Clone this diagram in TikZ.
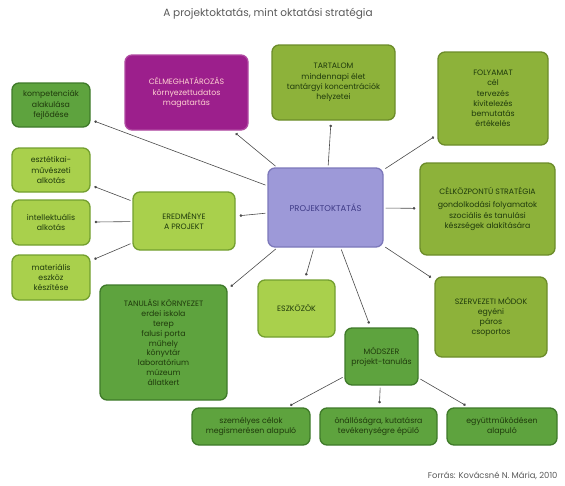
\documentclass[tikz,border=0pt]{standalone}
\usepackage{fontspec}
\setmainfont{Poppins}
\usetikzlibrary{arrows.meta}
\definecolor{olivefill}{HTML}{8DB23A}
\definecolor{oliveline}{HTML}{6C8C2A}
\definecolor{lightfill}{HTML}{A9D04C}
\definecolor{lightline}{HTML}{739F30}
\definecolor{darkfill}{HTML}{5EA33E}
\definecolor{darkline}{HTML}{3F7A2A}
\definecolor{purplefill}{HTML}{9C1F8C}
\definecolor{purpleline}{HTML}{B04AA2}
\definecolor{lavfill}{HTML}{9D99D8}
\definecolor{lavline}{HTML}{7C78BA}
\definecolor{greentext}{HTML}{1F3A0C}
\definecolor{lavtext}{HTML}{3E3A86}
\definecolor{linegray}{HTML}{4A4A4A}
\begin{document}
\begin{tikzpicture}[x=1pt,y=-1pt]
% Styles for the boxes
\tikzset{box/.style={draw, rounded corners=7pt, line width=1.3pt, align=center,
    inner sep=1pt, text=greentext, font=\fontsize{7.8}{10.2}\selectfont},
  olivebox/.style={box, fill=olivefill, draw=oliveline},
  lightbox/.style={box, fill=lightfill, draw=lightline},
  darkbox/.style={box, fill=darkfill, draw=darkline},
  conn/.style={draw=linegray, line width=0.6pt, -{Circle[length=2.6pt]},
    shorten >=4pt, shorten <=2pt}}
\useasboundingbox (0,0) rectangle (565,485);
% Title
\node (title) at (268,14) [text=black!65, font=\fontsize{10.5}{12}\selectfont]
  {A projektoktatás, mint oktatási stratégia};
% Centre
\node (proj) at (325.5,207.5) [box, fill=lavfill, draw=lavline, text=lavtext,
  minimum width=115pt, minimum height=79pt, font=\fontsize{8.4}{10}\selectfont]
  {PROJEKTOKTATÁS};
% Top row
\node (celm) at (186.5,92.5) [box, fill=purplefill, draw=purpleline, text=pink!70,
  minimum width=123pt, minimum height=75pt]
  {CÉLMEGHATÁROZÁS\\környezettudatos\\magatartás};
\node (tart) at (333.5,82.5) [olivebox, minimum width=123pt, minimum height=75pt]
  {TARTALOM\\mindennapi élet\\tantárgyi koncentrációk\\helyzetei};
\node (foly) at (493,98.5) [olivebox, minimum width=110pt, minimum height=93pt]
  {FOLYAMAT\\cél\\tervezés\\kivitelezés\\bemutatás\\értékelés};
% Right column
\node (celk) at (487.5,209) [olivebox, minimum width=135pt, minimum height=92pt]
  {CÉLKÖZPONTÚ STRATÉGIA\\[3pt]gondolkodási folyamatok\\szociális és tanulási\\készségek alakítására};
\node (szerv) at (491,317) [olivebox, minimum width=112pt, minimum height=80pt]
  {SZERVEZETI MÓDOK\\egyéni\\páros\\csoportos};
% Left side
\node (ered) at (184,221) [lightbox, minimum width=102pt, minimum height=58pt]
  {EREDMÉNYE\\A PROJEKT};
\node (komp) at (51,105) [darkbox, minimum width=78pt, minimum height=44pt]
  {kompetenciák\\alakulása\\fejlődése};
\node (eszt) at (51,170) [lightbox, minimum width=78pt, minimum height=44pt]
  {esztétikai-\\művészeti\\alkotás};
\node (intel) at (51,222.5) [lightbox, minimum width=78pt, minimum height=45pt]
  {intellektuális\\alkotás};
\node (mat) at (51,277.5) [lightbox, minimum width=78pt, minimum height=45pt]
  {materiális\\eszköz\\készítése};
% Bottom part
\node (tanul) at (163.5,342.5) [darkbox, minimum width=127pt, minimum height=115pt,
  font=\fontsize{7.8}{9.8}\selectfont]
  {TANULÁSI KÖRNYEZET\\erdei iskola\\terep\\falusi porta\\műhely\\könyvtár\\laboratórium\\múzeum\\állatkert};
\node (eszk) at (296.5,308.5) [lightbox, minimum width=77pt, minimum height=57pt]
  {ESZKÖZÖK};
\node (mod) at (381.5,356.5) [darkbox, minimum width=73pt, minimum height=57pt]
  {MÓDSZER\\projekt-tanulás};
\node (bota) at (251,426.5) [darkbox, minimum width=118pt, minimum height=37pt]
  {személyes célok\\megismerésen alapuló};
\node (botb) at (378.5,426.5) [darkbox, minimum width=117pt, minimum height=37pt]
  {önállóságra, kutatásra\\tevékenységre épülő};
\node (botc) at (502,426.5) [darkbox, minimum width=110pt, minimum height=37pt]
  {együttműködésen\\alapuló};
% Source
\node (forras) at (561,476) [anchor=east, text=black!65, font=\fontsize{8.4}{10}\selectfont]
  {Forrás: Kovácsné N. Mária, 2010};
% Connectors
\foreach \t in {komp,celm,tart,foly,celk,szerv,mod,eszk,tanul,ered} {
  \draw[conn] (proj) -- (\t);
}
\foreach \t in {eszt,intel,mat} {
  \draw[conn] (ered) -- (\t);
}
\foreach \t in {bota,botb,botc} {
  \draw[conn] (mod) -- (\t);
}
\end{tikzpicture}
\end{document}
